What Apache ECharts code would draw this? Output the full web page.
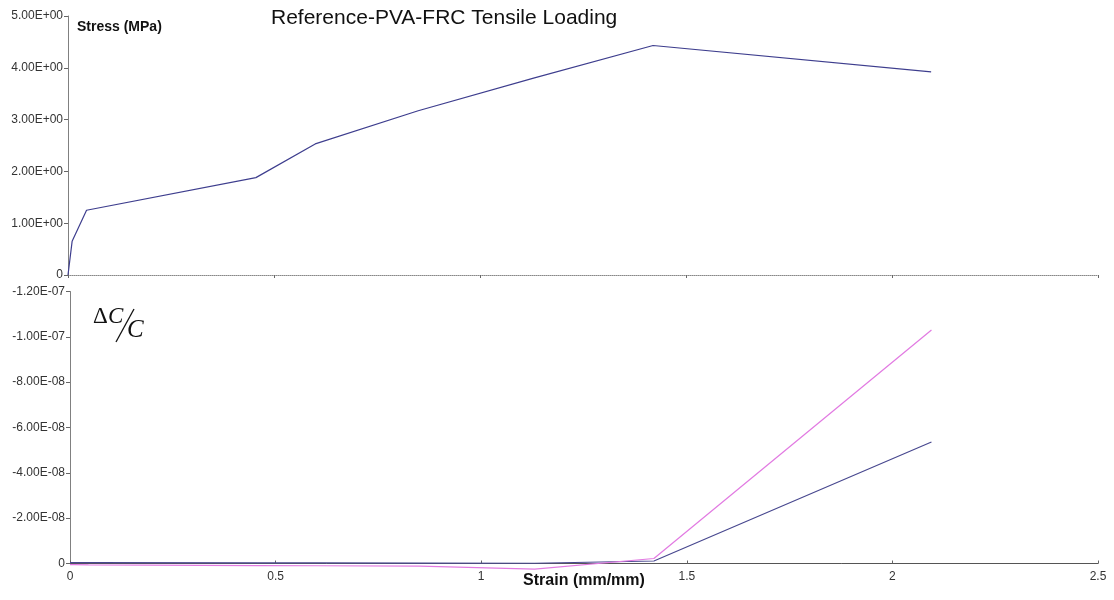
<!DOCTYPE html>
<html>
<head>
<meta charset="utf-8">
<title>Reference-PVA-FRC Tensile Loading</title>
<script src="https://cdn.jsdelivr.net/npm/echarts@6/dist/echarts.min.js"></script>
<style>
  html, body { margin: 0; padding: 0; background: #fff; }
  #chart { width: 1114px; height: 600px; }
</style>
</head>
<body>
<div id="chart"></div>
<script>
// Strain readings shared by both panels (mm/mm)
const strain = [0, 0.01, 0.045, 0.456, 0.6, 0.85, 1.13, 1.42, 2.095];
// Tensile stress (MPa)
const stress = [0, 0.65, 1.25, 1.88, 2.53, 3.17, 3.8, 4.43, 3.92];
// Relative capacitance change, two channels
const dcBlue = [-0.4e-9, -0.4e-9, -0.4e-9, -0.3e-9, -0.3e-9, -0.2e-9, -0.1e-9, -1.1e-9, -5.36e-8];
const dcPink = [0.5e-9, 0.5e-9, 0.6e-9, 0.9e-9, 1.0e-9, 1.2e-9, 2.5e-9, -2.2e-9, -1.03e-7];

const stressTicks = { min: 0, max: 5, interval: 1 };
const dcTicks = { min: -1.2e-7, max: 0, interval: 2e-8 };
const strainTicks = { min: 0, max: 2.5, interval: 0.5 };

function sci(v) {
  if (Math.abs(v) < 1e-20) return '0';
  const parts = v.toExponential(2).split('e');
  const sign = parts[1][0] === '-' ? '-' : '+';
  let d = parts[1].replace(/[+-]/, '');
  if (d.length < 2) d = '0' + d;
  return parts[0] + 'E' + sign + d;
}

const pairs = (xs, ys) => xs.map((x, i) => [x, ys[i]]);

const sans = '"Liberation Sans", Arial, sans-serif';
const serif = '"Liberation Serif", "DejaVu Serif", serif';
const labelStyle = { color: '#333', fontFamily: sans, fontSize: 12 };
const axisGray = '#808080';

const chart = echarts.init(document.getElementById('chart'), null, { renderer: 'canvas' });
chart.setOption({
  animation: false,
  backgroundColor: '#fff',
  grid: [
    { left: 68, right: 16, top: 16, height: 259 },
    { left: 70, right: 16, top: 291.5, height: 272 }
  ],
  xAxis: [
    {
      gridIndex: 0, type: 'value', min: strainTicks.min, max: strainTicks.max, interval: strainTicks.interval,
      axisLine: { onZero: false, lineStyle: { color: '#888', type: 'dotted', width: 1 } },
      axisTick: { show: true, length: 3, lineStyle: { color: '#666' } },
      axisLabel: { show: false },
      splitLine: { show: false }
    },
    {
      gridIndex: 1, type: 'value', min: strainTicks.min, max: strainTicks.max, interval: strainTicks.interval,
      axisLine: { onZero: false, lineStyle: { color: '#555', width: 1 } },
      axisTick: { show: true, inside: true, length: 3, lineStyle: { color: '#666' } },
      axisLabel: Object.assign({ margin: 7, formatter: v => String(v) }, labelStyle),
      splitLine: { show: false }
    }
  ],
  yAxis: [
    {
      gridIndex: 0, type: 'value', min: stressTicks.min, max: stressTicks.max, interval: stressTicks.interval,
      axisLine: { show: true, onZero: false, lineStyle: { color: axisGray, width: 1 } },
      axisTick: { show: true, length: 4, lineStyle: { color: '#666' } },
      axisLabel: Object.assign({ margin: 5, formatter: sci }, labelStyle),
      splitLine: { show: false }
    },
    {
      gridIndex: 1, type: 'value', inverse: true, min: dcTicks.min, max: dcTicks.max, interval: dcTicks.interval,
      axisLine: { show: true, onZero: false, lineStyle: { color: axisGray, width: 1 } },
      axisTick: { show: true, length: 4, lineStyle: { color: '#666' } },
      axisLabel: Object.assign({ margin: 5, formatter: sci }, labelStyle),
      splitLine: { show: false }
    }
  ],
  series: [
    {
      type: 'line', xAxisIndex: 0, yAxisIndex: 0, data: pairs(strain, stress),
      showSymbol: false, lineStyle: { color: '#3e3e8e', width: 1.2 }, z: 3
    },
    {
      type: 'line', xAxisIndex: 1, yAxisIndex: 1, data: pairs(strain, dcBlue), clip: false,
      showSymbol: false, lineStyle: { color: '#48488f', width: 1.2 }, z: 3
    },
    {
      type: 'line', xAxisIndex: 1, yAxisIndex: 1, data: pairs(strain, dcPink), clip: false,
      showSymbol: false, lineStyle: { color: '#e27ae2', width: 1.2 }, z: 4
    }
  ],
  graphic: [
    {
      type: 'text', left: 271, top: 8,
      style: { text: 'Reference-PVA-FRC Tensile Loading', fill: '#111', font: '21px ' + sans }
    },
    {
      type: 'text', left: 77, top: 20,
      style: { text: 'Stress (MPa)', fill: '#111', font: 'bold 14px ' + sans }
    },
    {
      type: 'text', x: 584, y: 581,
      style: { text: 'Strain (mm/mm)', fill: '#111', font: 'bold 16px ' + sans, align: 'center', verticalAlign: 'middle' }
    },
    // ΔC / C fraction label for the lower panel
    {
      type: 'text', left: 93, top: 305,
      style: { text: '\u0394', fill: '#111', font: '23px ' + serif }
    },
    {
      type: 'text', left: 108, top: 305,
      style: { text: 'C', fill: '#111', font: 'italic 23px ' + serif }
    },
    {
      type: 'line', shape: { x1: 134, y1: 309, x2: 116, y2: 342 },
      style: { stroke: '#111', lineWidth: 1.3 }
    },
    {
      type: 'text', left: 127, top: 318,
      style: { text: 'C', fill: '#111', font: 'italic 25px ' + serif }
    }
  ]
});
</script>
</body>
</html>
